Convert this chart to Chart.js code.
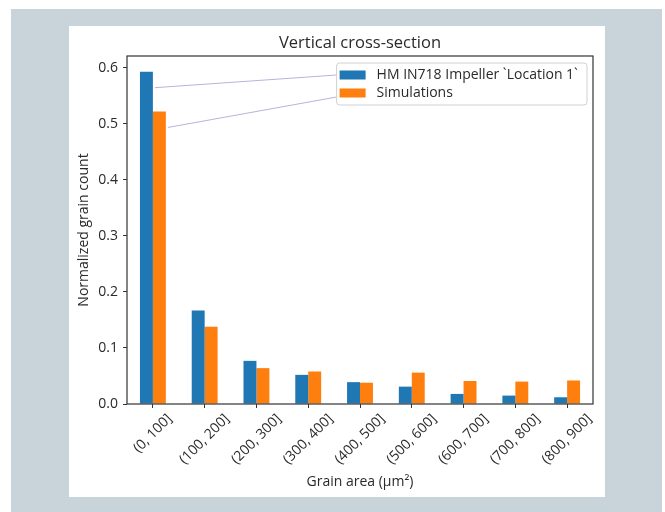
<!DOCTYPE html>
<html>
<head>
<meta charset="utf-8">
<script src="https://cdn.jsdelivr.net/npm/chart.js@4"></script>
<style>
html, body { margin: 0; padding: 0; background: #fff; }
#bg { position: absolute; left: 11px; top: 9px; width: 651px; height: 503px; background: #c9d4da; }
#panel { position: absolute; left: 69px; top: 26px; width: 536px; height: 471px; background: #fff; }
canvas { display: block; }
</style>
</head>
<body>
<div id="bg"></div>
<div id="panel"><canvas id="chart" width="536" height="471"></canvas></div>
<script>
// bins
const categories = ['(0, 100]', '(100, 200]', '(200, 300]', '(300, 400]', '(400, 500]',
                    '(500, 600]', '(600, 700]', '(700, 800]', '(800, 900]'];
const measured  = [0.593, 0.167, 0.077, 0.052, 0.039, 0.031, 0.018, 0.015, 0.012];
const simulated = [0.522, 0.138, 0.064, 0.058, 0.038, 0.056, 0.041, 0.040, 0.042];
const yTicks = [0.0, 0.1, 0.2, 0.3, 0.4, 0.5, 0.6];
const chartTitle = 'Vertical cross-section';

const FONT = 'Open Sans';
const TXT = '#2a2a2a';

// title over the plot, box round the plot, legend with the leader lines,
// rotated x labels (centred on the tick like matplotlib)
const framePlugin = {
    id: 'frame',
    afterDatasetsDraw(chart) {
        const { ctx, chartArea: a } = chart;
        const items = chart.data.datasets;
        ctx.save();

        ctx.fillStyle = TXT;
        ctx.font = '16.5px "' + FONT + '"';
        ctx.textAlign = 'center';
        ctx.textBaseline = 'middle';
        ctx.fillText(chartTitle, (a.left + a.right) / 2, a.top - 13);

        ctx.textAlign = 'left';
        ctx.font = '14px "' + FONT + '"';
        let textW = 0;
        items.forEach(d => { textW = Math.max(textW, ctx.measureText(d.label).width); });
        const boxW = 3 + 26 + 11 + textW + 9;
        const boxH = 42;
        const bx = a.right - 6 - boxW;
        const by = a.top + 7;

        // leader lines
        ctx.strokeStyle = 'rgba(150,130,200,0.8)';
        ctx.lineWidth = 0.8;
        items.forEach((d, i) => {
            const bar = chart.getDatasetMeta(i).data[0];
            ctx.beginPath();
            ctx.moveTo(bar.x + bar.width / 2 + 2, bar.y + 16);
            ctx.lineTo(bx, by + 12 + i * 22);
            ctx.stroke();
        });

        // legend
        ctx.fillStyle = 'rgba(255,255,255,0.8)';
        ctx.strokeStyle = '#d0d0d0';
        ctx.lineWidth = 1;
        ctx.beginPath();
        ctx.roundRect(bx, by, boxW, boxH, 3);
        ctx.fill();
        ctx.stroke();
        items.forEach((d, i) => {
            const cy = by + 12 + i * 18;
            ctx.fillStyle = d.backgroundColor;
            ctx.fillRect(bx + 3, cy - 4.5, 26, 9);
            ctx.fillStyle = TXT;
            ctx.fillText(d.label, bx + 40, cy);
        });

        // x tick labels, rotated 45 deg
        const xs = chart.scales.x;
        ctx.fillStyle = TXT;
        ctx.textAlign = 'center';
        chart.data.labels.forEach((lab, i) => {
            const x = xs.getPixelForTick(i);
            const w = ctx.measureText(lab).width;
            const h = 13;
            const cy = a.bottom + 8 + (w + h) / (2 * Math.SQRT2);
            ctx.save();
            ctx.translate(x, cy);
            ctx.rotate(-Math.PI / 4);
            ctx.fillText(lab, 0, 0);
            ctx.restore();
        });

        // frame
        ctx.strokeStyle = '#333';
        ctx.lineWidth = 1.2;
        ctx.strokeRect(a.left, a.top, a.right - a.left, a.bottom - a.top);
        ctx.restore();
    }
};

new Chart(document.getElementById('chart'), {
    type: 'bar',
    data: {
        labels: categories,
        datasets: [{
            label: 'HM IN718 Impeller `Location 1`',
            data: measured,
            backgroundColor: '#1f77b4'
        }, {
            label: 'Simulations',
            data: simulated,
            backgroundColor: '#ff7f0e'
        }]
    },
    options: {
        responsive: false,
        animation: false,
        layout: { padding: { left: 0, right: 12, top: 30, bottom: 0 } },
        categoryPercentage: 0.5,
        barPercentage: 1.0,
        plugins: {
            legend: { display: false },
            tooltip: { enabled: false },
            title: { display: false }
        },
        scales: {
            x: {
                grid: { offset: false, drawOnChartArea: false, drawTicks: true, tickLength: 4, tickColor: '#333' },
                border: { display: false },
                ticks: { display: false },
                title: {
                    display: true,
                    text: 'Grain area (µm²)',
                    color: TXT,
                    font: { family: FONT, size: 14 },
                    padding: { top: 0, bottom: 7 }
                },
                afterFit(scale) { scale.height = 93; }
            },
            y: {
                min: 0,
                max: 0.621,
                grid: { drawOnChartArea: false, drawTicks: true, tickLength: 4, tickColor: '#333' },
                border: { display: false },
                afterBuildTicks(scale) { scale.ticks = yTicks.map(v => ({ value: v })); },
                ticks: {
                    color: TXT,
                    font: { family: FONT, size: 14 },
                    padding: 5,
                    callback: v => v.toFixed(1)
                },
                title: {
                    display: true,
                    text: 'Normalized grain count',
                    color: TXT,
                    font: { family: FONT, size: 14 },
                    padding: { top: 7, bottom: 0 }
                },
                afterFit(scale) { scale.width = 58; }
            }
        }
    },
    plugins: [framePlugin]
});
</script>
</body>
</html>
